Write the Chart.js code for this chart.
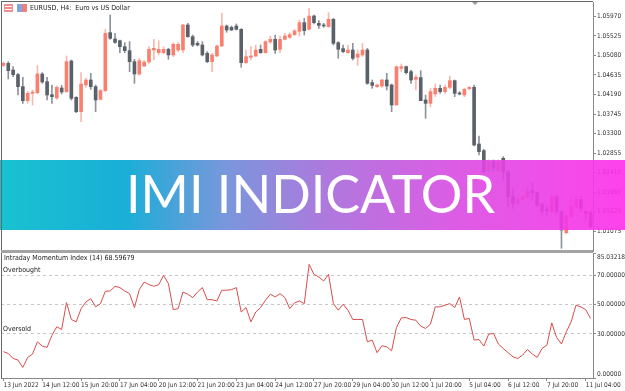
<!DOCTYPE html>
<html>
<head>
<meta charset="utf-8">
<script src="https://cdn.jsdelivr.net/npm/chart.js@4.4.0/dist/chart.umd.min.js"></script>
<style>
  html, body { margin: 0; padding: 0; background: #fff; overflow: hidden; }
  #wrap { position: relative; width: 625px; height: 391px; }
  .box { position: absolute; left: 0; width: 625px; }
  #mainBox { top: 0; height: 252px; }
  #subBox { top: 240px; height: 151px; }
  .line { position: absolute; background: #666; }
</style>
</head>
<body>
<div id="wrap">
  <div class="box" id="mainBox"><canvas id="mainChart" width="625" height="252"></canvas></div>
  <div class="box" id="subBox"><canvas id="imiChart" width="625" height="151"></canvas></div>
  <div class="line" style="left:1px;top:1px;width:592px;height:1px"></div>
  <div class="line" style="left:1px;top:1px;width:1px;height:378px"></div>
  <div class="line" style="left:1px;top:250px;width:592px;height:3px;background:#a4a4a4"></div>
</div>
<script>
// EURUSD H4 candles, 13 Jun 04:00 .. 11 Jul 08:00
const opens = [
  1.04853, 1.04899, 1.04747, 1.04641, 1.04368, 1.04049, 1.04216, 1.04231, 1.04656, 1.04481,
  1.04185, 1.04110, 1.04337, 1.04254, 1.04952, 1.04125, 1.03798, 1.04406, 1.04519, 1.04368,
  1.04079, 1.04277, 1.05597, 1.05453, 1.05415, 1.05278, 1.05187, 1.04937, 1.04656, 1.04838,
  1.04929, 1.05202, 1.05142, 1.05142, 1.05218, 1.05089, 1.05202, 1.05202, 1.05772, 1.05506,
  1.05354, 1.05316, 1.05127, 1.04937, 1.05066, 1.05294, 1.05749, 1.05719, 1.05749, 1.05673,
  1.04914, 1.05036, 1.05066, 1.05218, 1.05142, 1.05385, 1.05445, 1.05218, 1.05445, 1.05491,
  1.05552, 1.05628, 1.05825, 1.05673, 1.05977, 1.05810, 1.05764, 1.05734, 1.05901, 1.05369,
  1.05233, 1.05142, 1.05202, 1.05036, 1.05089, 1.05202, 1.04459, 1.04368, 1.04383, 1.04519,
  1.04406, 1.03950, 1.04785, 1.04823, 1.04709, 1.04535, 1.04573, 1.04064, 1.03988, 1.04201,
  1.04330, 1.04254, 1.04352, 1.04504, 1.04216, 1.04178, 1.04322, 1.04352, 1.03062, 1.02911,
  1.02470, 1.02660, 1.02470, 1.02736, 1.02432, 1.01863, 1.01711, 1.01802, 1.01848, 1.02000,
  1.01954, 1.01696, 1.01575, 1.01522, 1.01863, 1.01522, 1.01043, 1.01408, 1.01635, 1.01802,
  1.01522, 1.01499
];
const highs = [
  1.04929, 1.04937, 1.04823, 1.04671, 1.04580, 1.04254, 1.04292, 1.04846, 1.04686, 1.04580,
  1.04406, 1.04383, 1.04398, 1.05066, 1.04975, 1.04140, 1.04686, 1.04557, 1.04671, 1.04406,
  1.04307, 1.05673, 1.05999, 1.05582, 1.05430, 1.05369, 1.05392, 1.04990, 1.05013, 1.04960,
  1.05278, 1.05445, 1.05415, 1.05278, 1.05240, 1.05369, 1.05369, 1.05787, 1.05810, 1.05544,
  1.05400, 1.05392, 1.05165, 1.05127, 1.05316, 1.06037, 1.05772, 1.05749, 1.05795, 1.05688,
  1.05202, 1.05278, 1.05316, 1.05316, 1.05415, 1.05521, 1.05544, 1.05521, 1.05582, 1.05597,
  1.05673, 1.05886, 1.05924, 1.06151, 1.05999, 1.05870, 1.05810, 1.06053, 1.05924, 1.05392,
  1.05316, 1.05316, 1.05354, 1.05202, 1.05354, 1.05240, 1.04519, 1.04428, 1.04535, 1.04671,
  1.04428, 1.04838, 1.04884, 1.04838, 1.04747, 1.04633, 1.04732, 1.04178, 1.04330, 1.04428,
  1.04406, 1.04406, 1.04610, 1.04519, 1.04254, 1.04330, 1.04368, 1.04406, 1.03244, 1.02941,
  1.02698, 1.02698, 1.02698, 1.02774, 1.02470, 1.02053, 1.01863, 1.01901, 1.02091, 1.02167,
  1.01977, 1.01711, 1.01635, 1.01901, 1.01878, 1.01522, 1.01446, 1.01863, 1.01863, 1.01863,
  1.01544, 1.01522
];
const lows = [
  1.04823, 1.04542, 1.04595, 1.04178, 1.03988, 1.03988, 1.03950, 1.04201, 1.04443, 1.04064,
  1.03988, 1.04079, 1.04201, 1.04231, 1.04064, 1.03776, 1.03571, 1.04352, 1.04307, 1.03798,
  1.04064, 1.04254, 1.05445, 1.05354, 1.05142, 1.05142, 1.04709, 1.04443, 1.04626, 1.04823,
  1.04899, 1.04975, 1.05089, 1.05111, 1.04990, 1.05051, 1.05165, 1.05142, 1.05491, 1.05278,
  1.05294, 1.05066, 1.04914, 1.04709, 1.05051, 1.05278, 1.05605, 1.05643, 1.05658, 1.04808,
  1.04899, 1.04975, 1.05051, 1.05127, 1.05127, 1.05354, 1.05127, 1.05142, 1.05430, 1.05468,
  1.05537, 1.05521, 1.05544, 1.05658, 1.05795, 1.05696, 1.05719, 1.05719, 1.05316, 1.05013,
  1.05142, 1.05127, 1.04975, 1.04853, 1.05051, 1.04421, 1.04330, 1.04352, 1.04352, 1.04292,
  1.03798, 1.03950, 1.04709, 1.04656, 1.04443, 1.04292, 1.04049, 1.03647, 1.03912, 1.04140,
  1.04216, 1.04216, 1.04322, 1.04140, 1.04178, 1.04140, 1.04292, 1.03017, 1.02812, 1.02394,
  1.02394, 1.02432, 1.02432, 1.02243, 1.01635, 1.01597, 1.01673, 1.01787, 1.01825, 1.01787,
  1.01635, 1.01446, 1.01408, 1.01484, 1.01468, 1.00687, 1.01013, 1.01370, 1.01597, 1.01522,
  1.01332, 1.01142
];
const closes = [
  1.04899, 1.04732, 1.04641, 1.04368, 1.04049, 1.04216, 1.04246, 1.04656, 1.04474, 1.04178,
  1.04140, 1.04352, 1.04246, 1.04937, 1.04102, 1.03798, 1.04428, 1.04519, 1.04368, 1.04064,
  1.04277, 1.05582, 1.05468, 1.05377, 1.05278, 1.05187, 1.04937, 1.04656, 1.04960, 1.04929,
  1.05218, 1.05240, 1.05218, 1.05218, 1.05089, 1.05332, 1.05332, 1.05772, 1.05506, 1.05316,
  1.05316, 1.05089, 1.04937, 1.05089, 1.05294, 1.05749, 1.05658, 1.05658, 1.05673, 1.04914,
  1.05051, 1.05066, 1.05202, 1.05142, 1.05392, 1.05445, 1.05202, 1.05445, 1.05521, 1.05552,
  1.05635, 1.05825, 1.05643, 1.05977, 1.05825, 1.05764, 1.05749, 1.05901, 1.05354, 1.05218,
  1.05165, 1.05202, 1.05013, 1.05111, 1.05202, 1.04443, 1.04398, 1.04406, 1.04519, 1.04383,
  1.03950, 1.04823, 1.04823, 1.04686, 1.04519, 1.04580, 1.04049, 1.03988, 1.04254, 1.04330,
  1.04254, 1.04352, 1.04504, 1.04216, 1.04201, 1.04307, 1.04352, 1.03039, 1.02888, 1.02432,
  1.02660, 1.02508, 1.02660, 1.02432, 1.01863, 1.01711, 1.01802, 1.01863, 1.02000, 1.01954,
  1.01673, 1.01522, 1.01544, 1.01863, 1.01522, 1.01104, 1.01423, 1.01651, 1.01802, 1.01597,
  1.01484, 1.01180
];

// Intraday Momentum Index (14), one value per bar
const imiValues = [
  17.9, 16.7, 13.3, 12.2, 7.2, 14.0, 16.3, 24.6, 21.7, 20.8,
  29.1, 34.8, 33.0, 51.3, 39.8, 38.2, 47.2, 51.7, 54.0, 48.4,
  50.6, 59.0, 59.2, 62.4, 61.5, 59.2, 57.4, 47.9, 60.1, 65.3,
  63.5, 62.4, 63.5, 69.8, 64.2, 46.5, 47.2, 58.5, 57.0, 54.7,
  58.5, 61.5, 53.3, 53.3, 52.4, 59.7, 59.7, 60.1, 61.5, 44.9,
  47.9, 38.2, 44.9, 47.9, 52.9, 57.0, 55.1, 57.4, 54.7, 47.2,
  51.1, 52.4, 50.6, 77.3, 70.5, 68.7, 66.0, 70.5, 50.6, 46.1,
  50.2, 46.1, 39.8, 39.8, 39.8, 24.6, 25.8, 17.2, 21.9, 21.2,
  18.5, 34.4, 40.9, 41.1, 39.8, 39.3, 35.3, 33.7, 36.6, 48.4,
  48.4, 49.5, 50.6, 47.9, 55.1, 39.8, 40.5, 25.8, 26.2, 21.7,
  29.8, 30.3, 23.1, 20.1, 17.2, 14.4, 13.3, 15.6, 19.4, 16.3,
  14.0, 20.1, 22.4, 37.5, 27.6, 23.1, 31.4, 38.2, 49.5, 48.4,
  46.5, 40.5
];

const priceTicks = [1.01075, 1.01520, 1.01965, 1.02410, 1.02855, 1.03300,
                    1.03745, 1.04190, 1.04635, 1.05080, 1.05525, 1.05970];
const imiTicks = [0, 30, 50, 70, 85.03218];
const imiLevels = [30, 50, 70];
const dateTickIdx = [0, 8, 16, 24, 32, 40, 48, 56, 64, 72, 80, 88, 96, 104, 112, 120];
const dateLabels = ["13 Jun 2022", "14 Jun 12:00", "15 Jun 20:00", "17 Jun 04:00", "20 Jun 12:00",
  "21 Jun 20:00", "23 Jun 04:00", "24 Jun 12:00", "27 Jun 20:00", "29 Jun 04:00", "30 Jun 12:00",
  "1 Jul 20:00", "5 Jul 04:00", "6 Jul 12:00", "7 Jul 20:00", "11 Jul 04:00"];

const FONT = "'Liberation Sans Narrow','DejaVu Sans Condensed','Liberation Sans',sans-serif";
const tickFont = { family: FONT, size: 6.5 };
const BULL = "#fa7f6f", BULL_WICK = "#f8b8ae";
const BEAR = "#5b6169", BEAR_WICK = "#8d939a";

const idx = opens.map((_, i) => i);
const isBull = idx.map(i => closes[i] >= opens[i]);

const bannerPlugin = {
  id: "banner",
  afterDraw(chart) {
    const c = chart.ctx;
    c.save();
    // header
    c.fillStyle = "#f08c8c"; c.fillRect(4, 4, 9, 8);
    c.fillStyle = "#fff"; c.fillRect(5, 6, 7, 1); c.fillRect(5, 9, 7, 1);
    c.fillStyle = "#7fa6dd"; c.fillRect(17, 4, 5, 8);
    c.fillStyle = "#ee8080"; c.fillRect(22, 4, 5, 8);
    c.fillStyle = "#222";
    c.font = "7px " + FONT;
    c.textBaseline = "middle";
    c.fillText("EURUSD, H4:  Euro vs US Dollar", 30, 8);
    // shift marker
    c.fillStyle = "#999";
    c.beginPath(); c.moveTo(472, 2); c.lineTo(478, 2); c.lineTo(475, 5); c.fill();
    // banner
    const g = c.createLinearGradient(0, 0, 625, 0);
    g.addColorStop(0, "#00bccb");
    g.addColorStop(0.2, "#00a6d3");
    g.addColorStop(0.36, "#6a8cd8");
    g.addColorStop(0.52, "#a56bda");
    g.addColorStop(0.72, "#d84ce2");
    g.addColorStop(1, "#ff2eea");
    c.globalAlpha = 0.9;
    c.fillStyle = g;
    c.fillRect(0, 160, 625, 70);
    c.globalAlpha = 1;
    c.fillStyle = "#fff";
    c.font = "52px Lato";
    c.textBaseline = "alphabetic";
    const w = c.measureText("IMI INDICATOR").width;
    c.translate(126, 213);
    c.scale(369 / w, 1);
    c.fillText("IMI INDICATOR", 0, 0);
    c.restore();
  }
};

new Chart(document.getElementById("mainChart"), {
  type: "bar",
  data: {
    labels: idx,
    datasets: [
      {
        data: idx.map(i => [lows[i], highs[i]]),
        backgroundColor: idx.map(i => isBull[i] ? BULL_WICK : BEAR_WICK),
        barThickness: 1, grouped: false, order: 2, borderWidth: 0
      },
      {
        data: idx.map(i => [Math.min(opens[i], closes[i]), Math.max(opens[i], closes[i])]),
        backgroundColor: idx.map(i => isBull[i] ? BULL : BEAR),
        barThickness: 3, minBarLength: 1, grouped: false, order: 1, borderWidth: 0
      }
    ]
  },
  options: {
    responsive: false,
    animation: false,
    layout: { padding: { left: 1, top: 2, right: 0, bottom: 1 } },
    plugins: { legend: { display: false }, tooltip: { enabled: false } },
    scales: {
      x: { display: false, offset: true },
      y: {
        position: "right",
        min: 1.00626,
        max: 1.06295,
        afterBuildTicks: s => { s.ticks = priceTicks.map(v => ({ value: v })); },
        afterFit: s => { s.width = 32; s.paddingTop = 0; s.paddingBottom = 0; },
        ticks: { callback: v => v.toFixed(5), font: tickFont, color: "#333", padding: 1, autoSkip: false },
        grid: { drawOnChartArea: false, tickLength: 3, color: "#888" },
        border: { color: "#888" }
      }
    }
  },
  plugins: [bannerPlugin]
});

const imiText = {
  id: "imiText",
  afterDraw(chart) {
    const c = chart.ctx;
    const y = chart.scales.y;
    c.save();
    c.fillStyle = "#222";
    c.font = "7px " + FONT;
    c.textBaseline = "middle";
    c.fillText("Intraday Momentum Index (14) 68.59679", 4, 18);
    c.fillText("Overbought", 3, y.getPixelForValue(70) - 5);
    c.fillText("Oversold", 3, y.getPixelForValue(30) - 5);
    c.restore();
  }
};

new Chart(document.getElementById("imiChart"), {
  type: "line",
  data: {
    datasets: [{
      data: imiValues.map((v, i) => ({ x: i, y: v })),
      borderColor: "#d94c4c",
      borderWidth: 1,
      pointRadius: 0,
      tension: 0
    }]
  },
  options: {
    responsive: false,
    animation: false,
    layout: { padding: { left: 1, top: 13, right: 0, bottom: 0 } },
    plugins: { legend: { display: false }, tooltip: { enabled: false } },
    scales: {
      x: {
        type: "linear",
        min: -0.5,
        max: opens.length - 0.5,
        afterBuildTicks: s => { s.ticks = dateTickIdx.map(v => ({ value: v })); },
        afterFit: s => { s.height = 13; s.paddingLeft = 0; s.paddingRight = 0; },
        ticks: {
          autoSkip: false, maxRotation: 0, align: "start", padding: 0,
          callback: (v, i) => dateLabels[i], font: tickFont, color: "#333"
        },
        grid: { drawOnChartArea: false, tickLength: 3, color: "#888" },
        border: { color: "#888" }
      },
      y: {
        position: "right",
        min: 0,
        max: 85.03218,
        afterBuildTicks: s => { s.ticks = imiTicks.map(v => ({ value: v })); },
        afterFit: s => { s.width = 32; s.paddingTop = 0; s.paddingBottom = 0; },
        ticks: {
          autoSkip: false, padding: 1, font: tickFont, color: "#333",
          callback: v => {
            if (v === 0) return ["0.00000", ""];
            if (v > 80) return ["", v.toFixed(5)];
            return v.toFixed(5);
          }
        },
        grid: {
          color: ctx => imiLevels.includes(ctx.tick && ctx.tick.value) ? "#c8c8c8" : "rgba(0,0,0,0)",
          tickColor: "#888",
          tickLength: 3
        },
        border: { color: "#888", dash: [3, 3] }
      }
    }
  },
  plugins: [imiText]
});
</script>
</body>
</html>
